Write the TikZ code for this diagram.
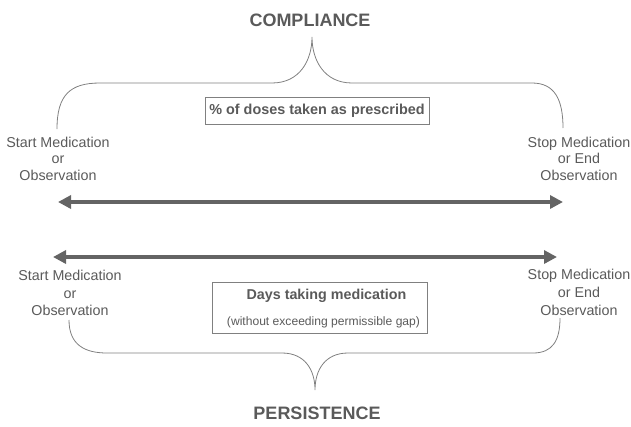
\documentclass[tikz,border=0pt]{standalone}
\usepackage{fontspec}
\setmainfont{Liberation Sans}
\usetikzlibrary{arrows.meta, positioning}
\definecolor{txtgray}{HTML}{5A5A5A}
\definecolor{arrgray}{HTML}{646464}
\definecolor{lingray}{HTML}{808080}
\tikzset{
  heading/.style={font=\fontsize{18}{20}\selectfont\bfseries, text=txtgray},
  endlabel/.style={align=center, font=\fontsize{14.3}{16.5}\selectfont, text=txtgray, inner sep=0pt},
  measure/.style={draw=lingray, line width=0.9pt, text=txtgray},
  span/.style={arrgray, line width=4.5pt, {Triangle[length=13pt,width=13pt]}-{Triangle[length=13pt,width=13pt]}},
  brace/.style={lingray, line width=0.8pt}
}

\begin{document}
\begin{tikzpicture}[x=1pt,y=1pt]
\useasboundingbox (0,0) rectangle (631,-426);
% compliance, upper half
\coordinate (ctip) at (312,-37);
\node[heading] (compliance) at (310,-20) {COMPLIANCE};
\draw[brace] (57,-129) .. controls (57,-95) and (70,-83) .. (100,-83) -- (272,-83)
  .. controls (300,-83) and (312,-60) .. (ctip)
  .. controls (312,-60) and (324,-83) .. (352,-83) -- (532,-83)
  .. controls (555,-83) and (563,-100) .. (563,-128);
\node[measure, minimum width=224pt, minimum height=27pt, font=\fontsize{14.4}{16}\selectfont\bfseries] (doses) at (317,-110.5) {\% of doses taken as prescribed};
\node[endlabel] (cstart) at (58,-158.5) {Start Medication\\or\\Observation};
\node[endlabel] (cstop) at (579,-158.5) {Stop Medication\\or End\\Observation};
\coordinate (cl) at (58,-202);
\coordinate (cr) at (563,-202);
\draw[span] (cl) -- (cr);
% persistence, lower half
\coordinate (pl) at (53,-257);
\coordinate (pr) at (557,-257);
\draw[span] (pl) -- (pr);
\node[endlabel, font=\fontsize{14.3}{17.8}\selectfont] (pstart) at (70,-293) {Start Medication\\or\\Observation};
\node[endlabel, font=\fontsize{14.3}{17.8}\selectfont] (pstop) at (579,-292.5) {Stop Medication\\or End\\Observation};
\node[measure, minimum width=215pt, minimum height=51pt] (daysbox) at (319.5,-307.5) {};
\node[text=txtgray, font=\fontsize{14.3}{16}\selectfont\bfseries] (days) at (326.5,-296) {Days taking medication};
\node[text=txtgray, font=\fontsize{12.1}{14}\selectfont] (gap) at (323.5,-322) {(without exceeding permissible gap)};
\coordinate (ptip) at (315,-390);
\draw[brace] (69,-320) .. controls (69,-345) and (85,-353) .. (107,-353) -- (282,-353)
  .. controls (305,-353) and (315,-370) .. (ptip)
  .. controls (315,-370) and (325,-353) .. (348,-353) -- (533,-353)
  .. controls (553,-353) and (560,-340) .. (560,-318);
\node[heading] (persistence) at (317,-413) {PERSISTENCE};
\end{tikzpicture}
\end{document}
